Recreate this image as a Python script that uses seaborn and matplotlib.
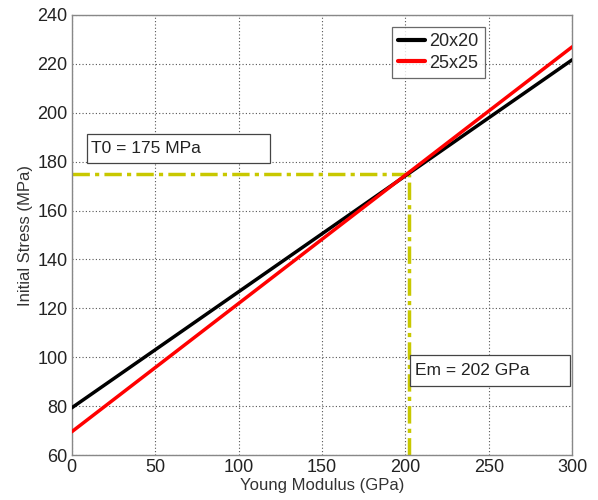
import matplotlib
matplotlib.use("Agg")
import matplotlib.pyplot as plt
from matplotlib.patches import Rectangle
import seaborn as sns
import pandas as pd

modulus = [0, 300]
stress_20x20 = [79.3, 221.7]
stress_25x25 = [69.5, 227.0]
series_names = ["20x20", "25x25"]
series_colors = ["#000000", "#ff0000"]
em_value = 202
t0_value = 175
x_ticks = [0, 50, 100, 150, 200, 250, 300]
y_ticks = [60, 80, 100, 120, 140, 160, 180, 200, 220, 240]

sns.set_style("white")
plt.rcParams['font.family'] = ['Liberation Sans', 'DejaVu Sans']

df = pd.DataFrame({
    "x": modulus * 2,
    "y": stress_20x20 + stress_25x25,
    "series": [series_names[0]] * 2 + [series_names[1]] * 2,
})

fig = plt.figure(figsize=(5.98, 5.0), dpi=100)
ax = fig.add_axes([0.120, 0.090, 0.837, 0.880])

ax.plot([0, em_value], [t0_value, t0_value], color="#c8c800", lw=2.5,
        linestyle=(0, (5, 1.5, 1.2, 1.5)), zorder=2)
ax.plot([em_value, em_value], [60, t0_value], color="#c8c800", lw=2.5,
        linestyle=(0, (5, 1.5, 1.2, 1.5)), zorder=2)

sns.lineplot(data=df, x="x", y="y", hue="series", palette=series_colors,
             linewidth=2.5, ax=ax, zorder=3)

ax.set_xlim(0, 300)
ax.set_ylim(60, 240)
ax.set_xticks(x_ticks)
ax.set_yticks(y_ticks)
ax.grid(True, color="#555555", linestyle=(0, (1, 2)), linewidth=0.8)
for s in ax.spines.values():
    s.set_color("#888888")
    s.set_linewidth(1.0)
ax.tick_params(axis="both", labelsize=13, colors="#222222", length=4,
               direction="in", pad=3)
ax.set_xlabel("Young Modulus (GPa)", fontsize=12, color="#333333", labelpad=1)
ax.set_ylabel("Initial Stress (MPa)", fontsize=12, color="#333333", labelpad=3)

leg = ax.legend(loc="upper left", bbox_to_anchor=(0.64, 0.973), fontsize=13,
                frameon=True, fancybox=False, edgecolor="#444444",
                handlelength=1.5, borderpad=0.35, labelspacing=0.25,
                handletextpad=0.2, borderaxespad=0)
leg.get_frame().set_linewidth(0.9)
for h in leg.get_lines():
    h.set_linewidth(3)

ax.add_patch(Rectangle((9, 179.5), 109.8, 11.8, fc="white", ec="#444444",
                       lw=0.9, zorder=5))
ax.text(11.5, 185.4, f"T0 = {t0_value} MPa", fontsize=12.5, color="#222222",
        va="center", ha="left", zorder=6)
ax.add_patch(Rectangle((202.8, 88.2), 96, 12.7, fc="white", ec="#444444",
                       lw=0.9, zorder=5))
ax.text(206, 94.5, f"Em = {em_value} GPa", fontsize=12.5, color="#222222",
        va="center", ha="left", zorder=6)

fig.savefig("out.png", dpi=100)
